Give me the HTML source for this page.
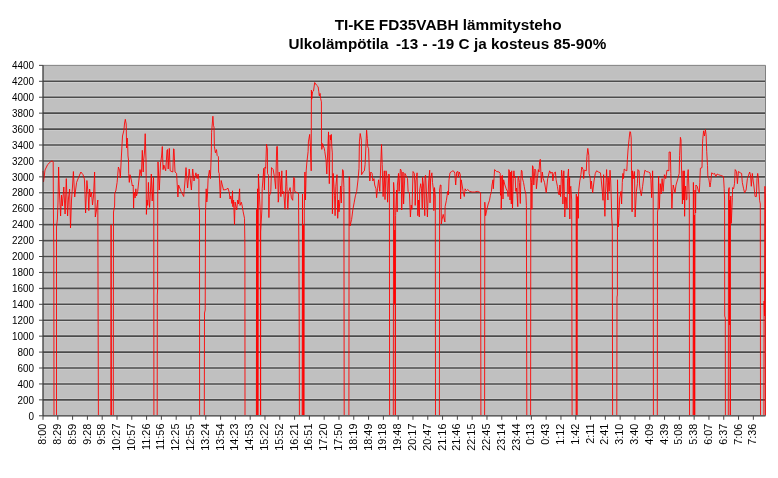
<!DOCTYPE html><html><head><meta charset="utf-8"><title>TI-KE FD35VABH lämmitysteho</title>
<style>html,body{margin:0;padding:0;background:#fff}svg{display:block}text{font-family:"Liberation Sans",sans-serif;fill:#000}.t{font-weight:bold;font-size:15.25px;text-anchor:middle}.y{font-size:11px;text-anchor:end}.x{font-size:11px;text-anchor:end}</style></head><body>
<svg width="778" height="478" viewBox="0 0 778 478">
<rect width="778" height="478" fill="#fff"/>
<rect x="43.0" y="65.36" width="722.5" height="350.44" fill="#c0c0c0"/>
<path d="M43.0 399.87H765.5M43.0 383.94H765.5M43.0 368.01H765.5M43.0 352.08H765.5M43.0 336.15H765.5M43.0 320.23H765.5M43.0 304.30H765.5M43.0 288.37H765.5M43.0 272.44H765.5M43.0 256.51H765.5M43.0 240.58H765.5M43.0 224.65H765.5M43.0 208.72H765.5M43.0 192.79H765.5M43.0 176.86H765.5M43.0 160.93H765.5M43.0 145.01H765.5M43.0 129.08H765.5M43.0 113.15H765.5M43.0 97.22H765.5M43.0 81.29H765.5" stroke="#cdcdcd" stroke-width="3.4" fill="none"/>
<path d="M43.0 399.87H765.5M43.0 383.94H765.5M43.0 368.01H765.5M43.0 352.08H765.5M43.0 336.15H765.5M43.0 320.23H765.5M43.0 304.30H765.5M43.0 288.37H765.5M43.0 272.44H765.5M43.0 256.51H765.5M43.0 240.58H765.5M43.0 224.65H765.5M43.0 208.72H765.5M43.0 192.79H765.5M43.0 176.86H765.5M43.0 160.93H765.5M43.0 145.01H765.5M43.0 129.08H765.5M43.0 113.15H765.5M43.0 97.22H765.5M43.0 81.29H765.5" stroke="#4c4c4c" stroke-width="1.6" fill="none"/>
<path d="M43.0 65.36H765.5V415.8" stroke="#808080" stroke-width="1" fill="none"/>
<path d="M43.0 171.0L43.5 182.0L45.0 170.0L47.7 164.5L50.3 162.0L52.2 160.8L53.2 162.0L53.4 210.0L53.8 250.0L54.0 415.0M56.5 415.0L56.5 227.0L57.4 219.0L58.0 202.0L58.6 167.0L59.3 190.0L60.6 216.0L61.5 195.0L62.3 206.0L63.8 187.0L65.1 214.0L66.3 178.6L67.6 216.0L68.5 198.0L69.6 189.0L70.5 228.0L71.5 200.0L72.4 188.0L73.4 171.5L74.7 197.0L76.6 182.4L78.6 177.3L80.9 172.0L83.0 174.7L84.4 179.0L85.0 194.0L85.6 213.0L86.9 180.5L88.2 195.0L88.8 210.6L89.6 189.0L90.6 197.0L91.5 192.0L92.5 205.0L93.5 196.0L94.6 172.0L95.3 217.0L96.5 210.0L97.8 200.0L98.4 415.0M98.6 415.0M110.8 415.0L111.1 224.7L111.5 415.0M113.3 415.0L113.5 212.0L114.6 206.0L114.8 192.7L115.8 191.0L117.1 182.4L118.4 167.0L119.7 170.8L120.3 178.0L121.2 160.0L122.5 136.0L123.8 130.8L124.6 123.0L125.3 119.3L126.2 124.0L126.6 148.0L127.2 138.0L127.6 142.4L128.0 156.0L128.5 160.0L128.7 173.4L129.3 182.4L130.0 174.7L131.3 179.8L132.3 186.0L133.2 185.0L133.6 208.0L134.0 192.0L134.5 194.0L135.1 198.0L135.8 188.8L136.5 196.0L137.7 191.4L140.0 169.6L141.3 176.0L142.3 150.3L143.2 172.0L143.7 160.0L144.5 152.0L145.2 133.7L146.0 160.0L146.2 178.6L146.4 214.4L147.0 200.0L147.7 205.4L148.4 182.4L149.0 200.0L149.6 207.4L150.5 190.0L151.3 174.0L152.2 201.0L153.5 177.3L153.8 210.0L153.9 415.0M157.2 415.0L157.3 295.0L157.6 290.0L157.7 200.0L158.0 161.9L159.3 190.0L160.6 163.0L161.6 156.0L162.3 146.5L163.1 169.6L163.8 165.0L165.7 170.8L166.4 160.0L167.0 150.3L167.5 149.5L168.2 169.0L169.3 148.4L170.2 170.8L172.8 172.0L173.6 148.8L174.0 149.0L175.0 172.0L176.6 173.4L177.9 197.0L178.6 185.0L181.1 191.4L183.7 196.5L185.0 181.0L186.0 167.6L187.6 188.0L189.2 169.0L191.4 190.0L192.7 169.0L194.0 181.0L195.9 172.8L197.2 178.6L198.1 174.0L198.9 179.8L198.9 206.0L199.5 210.0L199.6 415.0M204.3 415.0L204.5 313.0L205.2 310.0L205.5 213.0L206.2 188.8L206.8 202.0L207.4 196.0L208.1 178.6L209.4 170.2L210.4 178.6L211.3 152.9L211.6 132.3L212.9 116.2L213.5 125.8L214.0 127.0L214.4 146.4L215.4 152.8L216.5 149.6L217.1 155.4L218.4 156.7L218.6 172.0L219.2 173.4L220.3 198.0L221.2 180.5L223.5 190.0L226.1 189.5L228.0 188.2L229.3 192.7L230.0 199.0L230.8 196.0L231.9 203.5L232.5 190.8L232.8 206.7L233.6 200.0L234.5 224.7L235.1 202.0L236.7 210.0L237.7 200.0L238.5 204.0L239.6 188.8L240.0 205.4L241.3 202.2L242.0 205.0L243.2 211.9L244.5 218.3L244.8 238.8L244.9 250.0L245.0 415.0M256.4 415.0L256.6 209.3L256.9 415.0M257.2 415.0L257.5 188.8L257.8 415.0M258.0 415.0L258.4 174.0L259.2 191.4L260.3 212.0L260.6 415.0L260.7 232.0L261.0 226.0L261.9 209.3L262.2 188.8L263.1 177.3L263.8 168.3L264.4 190.0L265.0 167.0L265.7 168.3L266.5 144.3L267.4 149.0L267.5 173.4L268.5 175.3L268.9 217.6L269.3 196.6L270.8 191.4L271.5 167.6L273.2 169.6L274.7 178.6L275.7 188.8L276.7 146.6L277.4 146.4L277.9 177.3L278.2 202.2L278.6 200.0L279.2 172.0L280.1 178.6L280.9 196.6L281.8 170.8L282.4 194.0L283.7 191.4L285.0 209.3L286.3 170.2L286.9 186.3L287.8 209.3L288.8 191.4L290.1 187.6L291.4 197.8L292.7 200.3L293.7 177.3L294.6 178.6L294.7 191.4L297.2 192.7L298.5 193.3L298.9 250.0L299.2 318.0L299.4 415.0M302.2 415.0L302.5 194.0L302.9 415.0M303.2 415.0L303.4 225.0L303.7 415.0M304.0 415.0L304.3 210.0L304.9 172.0L305.5 200.0L306.2 170.8L306.8 163.0L308.1 151.6L308.4 141.9L309.7 134.4L310.4 146.9L311.2 170.8L311.4 90.0L311.7 99.2L312.6 91.7L313.5 91.0L314.7 82.5L316.4 85.0L318.1 86.7L318.8 91.7L319.3 95.9L320.1 93.4L320.6 98.4L321.4 101.8L321.5 141.9L321.8 149.4L322.6 143.6L322.9 145.0L324.3 148.6L324.8 151.6L326.1 160.6L326.8 174.0L328.5 131.9L329.3 183.7L330.1 135.2L330.7 140.0L331.3 134.4L331.8 146.9L332.3 152.9L332.4 213.8L333.2 173.4L334.5 195.3L335.1 215.7L335.8 186.3L337.0 174.7L337.7 218.3L338.5 200.0L339.0 211.9L340.0 199.0L340.6 186.0L341.3 203.0L341.9 185.0L342.6 169.6L343.3 171.0L343.9 187.6L344.2 415.0M348.9 415.0L349.1 176.6L349.6 177.0L350.0 226.0L351.6 219.6L352.9 209.3L354.1 202.9L355.4 195.8L356.7 191.4L358.0 179.8L359.0 168.3L359.4 141.9L360.2 133.5L361.4 140.2L361.6 174.7L363.1 172.0L364.4 170.8L365.1 164.4L366.1 141.9L366.6 130.2L367.3 138.5L367.8 146.9L368.6 148.6L369.3 170.8L369.8 181.0L370.8 172.0L372.1 173.4L372.8 181.0L374.0 178.6L374.7 185.0L376.0 188.8L376.6 197.7L377.5 188.8L378.6 179.8L379.8 191.4L380.9 160.6L381.5 144.5L382.2 164.4L383.1 196.6L384.3 170.8L385.0 199.6L386.0 170.8L386.9 176.0L387.6 202.2L388.8 174.0L389.4 176.0L389.6 415.0M393.3 415.0L393.6 182.4L394.1 190.0L394.4 304.0L394.8 230.0L395.2 304.0L395.3 415.0M395.3 415.0L395.6 215.7L396.5 190.0L397.2 211.9L397.4 185.0L398.5 173.4L399.1 191.4L400.4 169.0L401.3 170.8L401.7 210.0L403.0 172.0L403.6 204.0L404.9 173.4L406.2 176.0L407.5 178.6L408.1 191.4L409.4 192.7L410.4 217.0L411.2 205.0L412.0 209.3L413.0 171.5L414.3 173.4L414.9 185.0L415.2 205.4L415.9 181.0L417.1 172.8L417.8 215.7L418.5 200.0L419.3 217.0L419.7 190.0L420.7 183.7L421.5 188.8L422.3 209.3L422.5 177.3L423.5 185.0L424.8 215.7L425.0 176.0L425.6 175.3L426.1 185.0L427.4 217.0L428.7 181.0L429.7 170.2L430.0 202.9L430.6 178.6L431.9 172.8L432.5 182.4L433.6 191.4L433.8 210.6L434.5 187.6L435.3 196.0L435.5 415.0M439.4 415.0L439.6 190.0L440.3 185.0L441.0 185.0L441.3 224.0L442.0 219.6L443.2 214.4L444.9 222.0L445.1 206.7L446.4 200.3L447.7 191.4L448.4 195.0L449.0 179.8L450.0 172.8L451.6 171.5L452.9 170.8L454.1 171.5L454.8 173.4L455.7 185.0L456.7 172.0L458.0 171.5L458.3 177.3L459.3 172.0L460.3 174.7L460.6 199.0L461.2 179.8L462.1 185.0L463.1 191.4L464.3 196.5L465.1 188.8L466.3 190.8L467.6 189.5L469.6 191.4L472.1 192.0L474.7 192.0L477.3 191.4L479.2 192.0L480.6 192.7L480.9 415.0M484.6 415.0L484.8 202.2L485.6 215.7L486.9 209.3L488.2 204.0L489.5 200.3L490.4 195.3L491.4 191.4L492.0 185.0L493.0 179.8L493.3 188.8L494.0 178.6L494.6 169.6L496.6 171.5L499.1 172.0L500.2 173.4L500.5 195.3L501.0 176.0L501.2 209.3L502.3 175.3L503.0 199.0L503.6 179.8L504.9 185.0L506.2 188.8L507.5 191.4L508.1 196.6L508.8 169.6L509.4 171.0L510.0 200.0L510.7 172.0L511.3 204.0L511.7 170.8L512.5 208.6L513.3 178.6L513.9 170.8L514.6 178.0L515.2 177.3L515.8 191.4L516.5 188.0L517.1 195.3L517.8 206.7L518.0 178.6L518.4 176.0L519.4 182.4L520.3 203.5L520.8 180.0L521.4 170.2L522.0 171.0L522.5 178.6L523.5 182.4L524.2 186.3L524.8 190.0L525.9 194.0L526.4 205.4L526.8 415.0M530.6 415.0L530.8 177.3L531.5 182.4L531.9 209.3L532.5 165.7L533.1 167.0L533.8 185.0L534.9 169.0L535.8 170.8L536.4 188.8L537.4 178.6L538.3 169.6L539.0 172.0L539.6 161.9L540.3 159.3L541.3 182.4L542.3 172.0L543.2 178.6L544.5 182.4L546.2 192.7L547.7 178.6L549.6 170.8L550.9 173.4L552.2 172.0L552.9 181.0L553.9 173.4L555.4 172.0L556.1 179.8L557.4 186.3L558.6 194.0L559.3 195.0L559.9 185.0L560.6 196.6L561.6 170.2L562.5 178.6L562.9 204.0L563.8 170.8L564.4 195.3L564.8 217.0L565.6 197.0L566.3 197.8L567.0 208.6L567.6 178.6L568.5 169.0L568.9 194.0L569.6 177.3L569.8 219.0L570.2 188.8L570.8 186.3L571.7 200.0L572.1 415.0M576.1 415.0L576.3 194.0L576.8 415.0M577.1 415.0L577.4 196.6L578.3 218.3L578.6 191.4L579.8 181.0L580.9 174.7L581.8 167.0L583.1 169.6L583.7 178.6L584.3 170.2L586.3 170.8L586.9 156.7L587.8 148.4L588.8 155.4L589.1 173.4L590.1 177.3L590.8 188.8L591.4 181.0L592.7 192.7L594.0 181.0L595.3 173.4L596.6 170.8L598.5 172.0L600.4 172.8L601.0 177.3L602.3 191.4L603.0 200.3L603.6 174.7L604.3 200.0L604.9 216.3L605.5 194.0L606.6 169.6L607.1 182.4L607.9 200.0L608.1 177.3L609.2 191.4L610.0 170.2L610.7 181.0L611.3 200.0L611.7 217.0L612.3 227.0L612.6 415.0M616.8 415.0L617.0 297.0L617.4 295.0L617.5 179.8L618.2 227.0L619.0 215.7L619.7 198.0L621.0 191.4L621.6 204.0L622.3 182.4L622.9 173.4L623.5 178.6L624.2 169.0L625.5 170.2L626.8 170.8L627.4 159.3L628.0 150.0L629.0 139.8L629.9 131.5L630.5 132.0L631.2 137.9L631.5 170.8L632.1 211.9L632.6 170.8L633.6 178.6L634.5 171.5L635.1 217.0L636.4 191.4L637.4 183.7L637.9 169.6L639.0 170.8L639.6 185.0L640.0 188.8L641.3 195.8L642.6 186.3L643.9 176.0L644.9 170.2L646.4 171.5L648.4 172.0L650.0 172.8L650.9 179.8L651.6 197.7L652.6 170.8L653.2 200.0L653.4 415.0M657.3 415.0L657.5 212.0L658.0 209.3L658.6 176.0L659.3 209.0L660.3 183.7L661.2 194.0L662.1 178.6L663.1 191.4L664.4 174.7L665.7 178.6L667.0 170.2L668.9 170.8L669.1 152.0L670.4 152.0L670.8 173.4L671.5 194.0L671.9 208.6L672.5 195.0L673.2 185.0L674.1 188.8L675.0 192.7L676.0 185.0L677.9 178.6L679.2 173.4L679.6 155.3L680.4 137.3L681.0 140.0L681.4 163.0L682.2 194.0L682.4 204.0L683.1 170.8L683.7 200.0L684.3 170.8L684.6 216.3L685.0 191.4L685.6 186.0L686.3 200.0L686.9 199.6L687.3 178.6L688.2 169.6L688.8 185.0L689.3 200.0L689.5 415.0M693.1 415.0L693.4 182.4L693.8 415.0M694.1 415.0L694.3 215.0L694.6 415.0M694.8 415.0L695.0 190.0L695.6 213.0L695.9 185.0L697.2 186.3L698.5 191.4L699.3 192.7L699.8 182.4L700.4 168.3L702.0 167.6L702.5 143.9L702.8 138.6L703.6 130.8L704.5 136.0L705.4 129.6L706.1 134.7L706.7 151.4L707.5 165.7L707.9 177.3L708.8 178.6L710.0 187.0L710.7 182.4L711.7 172.8L713.3 174.0L714.6 173.4L715.8 176.6L717.1 174.0L718.4 174.7L720.3 175.3L722.3 176.0L723.5 176.6L724.2 188.8L724.6 200.0L724.7 316.0L725.3 318.0L725.4 415.0M728.3 415.0L728.5 190.0L729.2 187.6L729.4 325.0L729.6 200.0L730.2 415.0M730.4 415.0L730.5 200.0L730.8 196.0L731.3 223.4L731.9 209.3L732.4 197.7L732.6 187.6L733.6 188.8L734.5 183.7L735.2 169.6L736.5 171.5L737.4 183.7L738.4 171.5L740.3 172.8L741.6 173.4L742.3 182.4L743.6 188.8L744.6 192.7L746.1 190.0L747.4 178.6L748.7 174.7L749.7 172.0L750.6 176.0L751.3 186.3L752.3 173.4L753.2 181.0L753.8 185.0L755.1 196.5L756.4 196.6L757.0 178.6L757.7 173.4L758.3 177.3L759.0 190.0L759.6 200.3L760.3 204.0L760.5 415.0M763.9 415.0L764.1 301.0L764.5 316.0L764.9 186.3L765.3 200.0L765.4 415.0" stroke="#ff0000" stroke-width="0.88" fill="none" stroke-linejoin="round"/>
<path d="M43.0 65.36V415.8M43.0 415.8H765.5" stroke="#3c3c3c" stroke-width="1.3" fill="none"/>
<path d="M39.0 415.80H43.0M39.0 399.87H43.0M39.0 383.94H43.0M39.0 368.01H43.0M39.0 352.08H43.0M39.0 336.15H43.0M39.0 320.23H43.0M39.0 304.30H43.0M39.0 288.37H43.0M39.0 272.44H43.0M39.0 256.51H43.0M39.0 240.58H43.0M39.0 224.65H43.0M39.0 208.72H43.0M39.0 192.79H43.0M39.0 176.86H43.0M39.0 160.93H43.0M39.0 145.01H43.0M39.0 129.08H43.0M39.0 113.15H43.0M39.0 97.22H43.0M39.0 81.29H43.0M39.0 65.36H43.0M43.00 415.8V419.8M57.80 415.8V419.8M72.60 415.8V419.8M87.40 415.8V419.8M102.20 415.8V419.8M116.99 415.8V419.8M131.79 415.8V419.8M146.59 415.8V419.8M161.39 415.8V419.8M176.19 415.8V419.8M190.99 415.8V419.8M205.79 415.8V419.8M220.59 415.8V419.8M235.39 415.8V419.8M250.19 415.8V419.8M264.98 415.8V419.8M279.78 415.8V419.8M294.58 415.8V419.8M309.38 415.8V419.8M324.18 415.8V419.8M338.98 415.8V419.8M353.78 415.8V419.8M368.58 415.8V419.8M383.38 415.8V419.8M398.18 415.8V419.8M412.97 415.8V419.8M427.77 415.8V419.8M442.57 415.8V419.8M457.37 415.8V419.8M472.17 415.8V419.8M486.97 415.8V419.8M501.77 415.8V419.8M516.57 415.8V419.8M531.37 415.8V419.8M546.16 415.8V419.8M560.96 415.8V419.8M575.76 415.8V419.8M590.56 415.8V419.8M605.36 415.8V419.8M620.16 415.8V419.8M634.96 415.8V419.8M649.76 415.8V419.8M664.56 415.8V419.8M679.36 415.8V419.8M694.15 415.8V419.8M708.95 415.8V419.8M723.75 415.8V419.8M738.55 415.8V419.8M753.35 415.8V419.8" stroke="#444" stroke-width="1" fill="none"/>
<text class="y" transform="translate(34 419.50) scale(0.9 1)">0</text>
<text class="y" transform="translate(34 403.57) scale(0.9 1)">200</text>
<text class="y" transform="translate(34 387.64) scale(0.9 1)">400</text>
<text class="y" transform="translate(34 371.71) scale(0.9 1)">600</text>
<text class="y" transform="translate(34 355.78) scale(0.9 1)">800</text>
<text class="y" transform="translate(34 339.85) scale(0.9 1)">1000</text>
<text class="y" transform="translate(34 323.93) scale(0.9 1)">1200</text>
<text class="y" transform="translate(34 308.00) scale(0.9 1)">1400</text>
<text class="y" transform="translate(34 292.07) scale(0.9 1)">1600</text>
<text class="y" transform="translate(34 276.14) scale(0.9 1)">1800</text>
<text class="y" transform="translate(34 260.21) scale(0.9 1)">2000</text>
<text class="y" transform="translate(34 244.28) scale(0.9 1)">2200</text>
<text class="y" transform="translate(34 228.35) scale(0.9 1)">2400</text>
<text class="y" transform="translate(34 212.42) scale(0.9 1)">2600</text>
<text class="y" transform="translate(34 196.49) scale(0.9 1)">2800</text>
<text class="y" transform="translate(34 180.56) scale(0.9 1)">3000</text>
<text class="y" transform="translate(34 164.63) scale(0.9 1)">3200</text>
<text class="y" transform="translate(34 148.71) scale(0.9 1)">3400</text>
<text class="y" transform="translate(34 132.78) scale(0.9 1)">3600</text>
<text class="y" transform="translate(34 116.85) scale(0.9 1)">3800</text>
<text class="y" transform="translate(34 100.92) scale(0.9 1)">4000</text>
<text class="y" transform="translate(34 84.99) scale(0.9 1)">4200</text>
<text class="y" transform="translate(34 69.06) scale(0.9 1)">4400</text>
<text class="x" transform="translate(46.10 423.6) rotate(-90) scale(0.985 1)">8:00</text>
<text class="x" transform="translate(60.90 423.6) rotate(-90) scale(0.985 1)">8:29</text>
<text class="x" transform="translate(75.70 423.6) rotate(-90) scale(0.985 1)">8:59</text>
<text class="x" transform="translate(90.50 423.6) rotate(-90) scale(0.985 1)">9:28</text>
<text class="x" transform="translate(105.30 423.6) rotate(-90) scale(0.985 1)">9:58</text>
<text class="x" transform="translate(120.09 423.6) rotate(-90) scale(0.985 1)">10:27</text>
<text class="x" transform="translate(134.89 423.6) rotate(-90) scale(0.985 1)">10:57</text>
<text class="x" transform="translate(149.69 423.6) rotate(-90) scale(0.985 1)">11:26</text>
<text class="x" transform="translate(164.49 423.6) rotate(-90) scale(0.985 1)">11:56</text>
<text class="x" transform="translate(179.29 423.6) rotate(-90) scale(0.985 1)">12:25</text>
<text class="x" transform="translate(194.09 423.6) rotate(-90) scale(0.985 1)">12:55</text>
<text class="x" transform="translate(208.89 423.6) rotate(-90) scale(0.985 1)">13:24</text>
<text class="x" transform="translate(223.69 423.6) rotate(-90) scale(0.985 1)">13:54</text>
<text class="x" transform="translate(238.49 423.6) rotate(-90) scale(0.985 1)">14:23</text>
<text class="x" transform="translate(253.29 423.6) rotate(-90) scale(0.985 1)">14:53</text>
<text class="x" transform="translate(268.08 423.6) rotate(-90) scale(0.985 1)">15:22</text>
<text class="x" transform="translate(282.88 423.6) rotate(-90) scale(0.985 1)">15:52</text>
<text class="x" transform="translate(297.68 423.6) rotate(-90) scale(0.985 1)">16:21</text>
<text class="x" transform="translate(312.48 423.6) rotate(-90) scale(0.985 1)">16:51</text>
<text class="x" transform="translate(327.28 423.6) rotate(-90) scale(0.985 1)">17:20</text>
<text class="x" transform="translate(342.08 423.6) rotate(-90) scale(0.985 1)">17:50</text>
<text class="x" transform="translate(356.88 423.6) rotate(-90) scale(0.985 1)">18:19</text>
<text class="x" transform="translate(371.68 423.6) rotate(-90) scale(0.985 1)">18:49</text>
<text class="x" transform="translate(386.48 423.6) rotate(-90) scale(0.985 1)">19:18</text>
<text class="x" transform="translate(401.28 423.6) rotate(-90) scale(0.985 1)">19:48</text>
<text class="x" transform="translate(416.07 423.6) rotate(-90) scale(0.985 1)">20:17</text>
<text class="x" transform="translate(430.87 423.6) rotate(-90) scale(0.985 1)">20:47</text>
<text class="x" transform="translate(445.67 423.6) rotate(-90) scale(0.985 1)">21:16</text>
<text class="x" transform="translate(460.47 423.6) rotate(-90) scale(0.985 1)">21:46</text>
<text class="x" transform="translate(475.27 423.6) rotate(-90) scale(0.985 1)">22:15</text>
<text class="x" transform="translate(490.07 423.6) rotate(-90) scale(0.985 1)">22:45</text>
<text class="x" transform="translate(504.87 423.6) rotate(-90) scale(0.985 1)">23:14</text>
<text class="x" transform="translate(519.67 423.6) rotate(-90) scale(0.985 1)">23:44</text>
<text class="x" transform="translate(534.47 423.6) rotate(-90) scale(0.985 1)">0:13</text>
<text class="x" transform="translate(549.26 423.6) rotate(-90) scale(0.985 1)">0:43</text>
<text class="x" transform="translate(564.06 423.6) rotate(-90) scale(0.985 1)">1:12</text>
<text class="x" transform="translate(578.86 423.6) rotate(-90) scale(0.985 1)">1:42</text>
<text class="x" transform="translate(593.66 423.6) rotate(-90) scale(0.985 1)">2:11</text>
<text class="x" transform="translate(608.46 423.6) rotate(-90) scale(0.985 1)">2:41</text>
<text class="x" transform="translate(623.26 423.6) rotate(-90) scale(0.985 1)">3:10</text>
<text class="x" transform="translate(638.06 423.6) rotate(-90) scale(0.985 1)">3:40</text>
<text class="x" transform="translate(652.86 423.6) rotate(-90) scale(0.985 1)">4:09</text>
<text class="x" transform="translate(667.66 423.6) rotate(-90) scale(0.985 1)">4:39</text>
<text class="x" transform="translate(682.46 423.6) rotate(-90) scale(0.985 1)">5:08</text>
<text class="x" transform="translate(697.25 423.6) rotate(-90) scale(0.985 1)">5:38</text>
<text class="x" transform="translate(712.05 423.6) rotate(-90) scale(0.985 1)">6:07</text>
<text class="x" transform="translate(726.85 423.6) rotate(-90) scale(0.985 1)">6:37</text>
<text class="x" transform="translate(741.65 423.6) rotate(-90) scale(0.985 1)">7:06</text>
<text class="x" transform="translate(756.45 423.6) rotate(-90) scale(0.985 1)">7:36</text>
<text class="t" style="font-size:15.32px" x="448.1" y="30.4">TI-KE FD35VABH lämmitysteho</text>
<text class="t" style="text-anchor:start" x="288.6" y="49.4" xml:space="preserve">Ulkolämpötila <tspan dx="-1.2" style="letter-spacing:0.07px"> -13 - -19 C ja kosteus 85-90%</tspan></text>
</svg></body></html>
